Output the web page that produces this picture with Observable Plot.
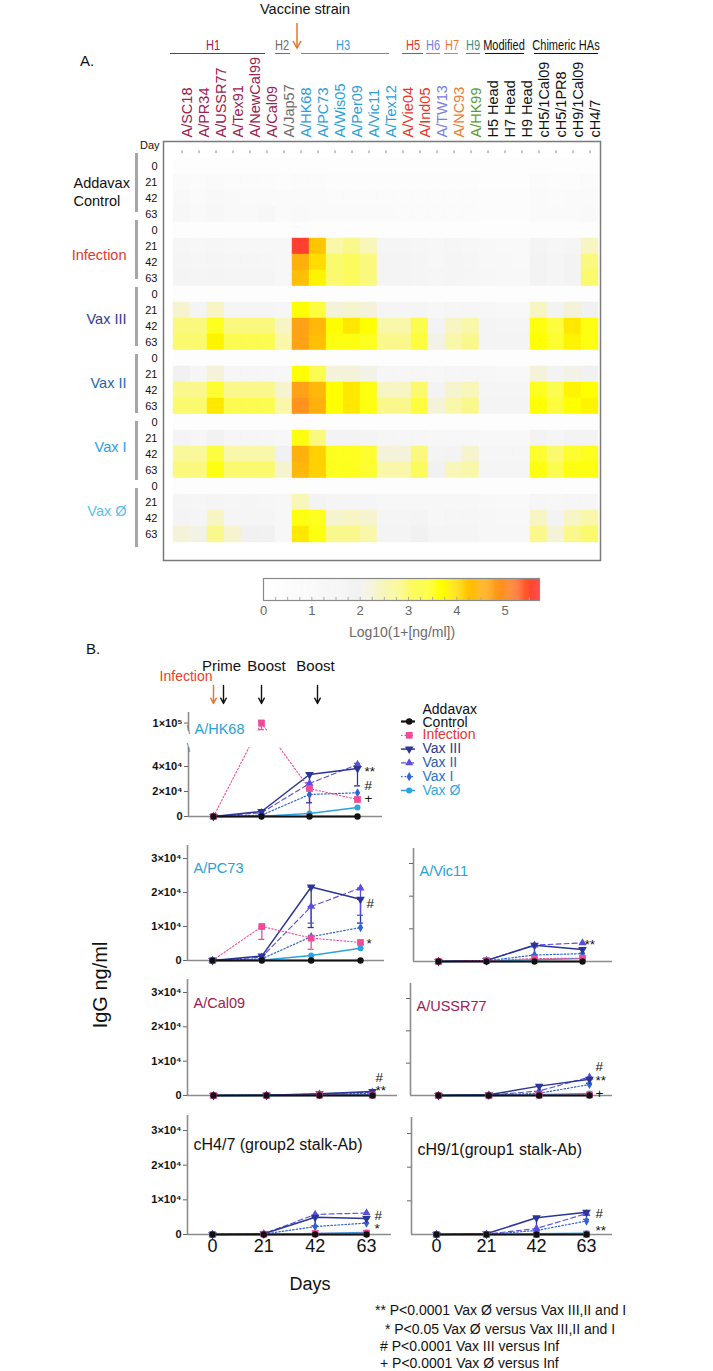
<!DOCTYPE html>
<html><head><meta charset="utf-8">
<script src="https://cdn.jsdelivr.net/npm/d3@7"></script>
<script src="https://cdn.jsdelivr.net/npm/@observablehq/plot@0.6"></script>
<style>
body{margin:0;background:#fff;}
#root{position:relative;width:713px;height:1371px;overflow:hidden;background:#fff;font-family:"Liberation Sans",Arial,sans-serif;color:#111;}
</style></head><body><div id="root"></div>
<script>
// ---------------- DATA ----------------
const columns = ["A/SC18","A/PR34","A/USSR77","A/Tex91","A/NewCal99","A/Cal09","A/Jap57","A/HK68","A/PC73","A/Wis05","A/Per09","A/Vic11","A/Tex12","A/Vie04","A/Ind05","A/TW13","A/NC93","A/HK99","H5 Head","H7 Head","H9 Head","cH5/1Cal09","cH5/1PR8","cH9/1Cal09","cH4/7"];
const columnSubtype = ["H1","H1","H1","H1","H1","H1","H2","H3","H3","H3","H3","H3","H3","H5","H5","H6","H7","H9","Modified","Modified","Modified","Chimeric HAs","Chimeric HAs","Chimeric HAs","Chimeric HAs"];
const days = [0, 21, 42, 63];
const groups = ["Addavax Control","Infection","Vax III","Vax II","Vax I","Vax Ø"];

// log10(1+[ng/ml]) per group, rows = days 0,21,42,63, 25 columns
const heatAddavax = [
 [0.3,0.3,0.3,0.3,0.3,0.3,0.3,0.3,0.3,0.3,0.3,0.3,0.3,0.3,0.3,0.3,0.3,0.3,0.3,0.3,0.3,0.3,0.3,0.3,0.3],
 [0.8,0.6,0.8,0.6,0.6,0.6,0.5,0.7,0.6,0.5,0.5,0.5,0.5,0.5,0.5,0.5,0.5,0.5,0.4,0.4,0.4,0.6,0.5,0.5,0.6],
 [1.1,0.9,1.1,1.0,0.9,0.9,0.8,0.9,0.8,0.7,0.7,0.7,0.7,0.7,0.7,0.6,0.7,0.7,0.5,0.5,0.5,0.8,0.7,0.8,0.9],
 [1.2,1.0,1.2,1.0,1.0,1.2,0.8,1.0,0.9,0.8,0.8,0.8,0.8,0.7,0.7,0.7,0.7,0.7,0.5,0.5,0.5,0.9,0.8,0.9,1.0]];
const heatInfection = [
 [0.4,0.4,0.4,0.4,0.4,0.4,0.4,0.4,0.4,0.4,0.4,0.4,0.4,0.4,0.4,0.4,0.4,0.4,0.4,0.4,0.4,0.4,0.4,0.4,0.4],
 [1.4,1.3,1.4,1.3,1.3,1.3,1.2,5.6,4.2,2.6,2.8,2.5,1.5,1.5,1.4,1.3,1.4,1.3,1.1,1.0,1.0,1.6,1.4,1.5,2.4],
 [1.5,1.4,1.5,1.4,1.4,1.4,1.3,4.5,4.0,3.0,3.1,2.9,1.6,1.6,1.5,1.3,1.5,1.4,1.1,1.1,1.0,1.7,1.5,1.7,2.9],
 [1.6,1.5,1.6,1.5,1.5,1.5,1.3,4.3,3.8,3.0,3.1,2.9,1.6,1.6,1.5,1.4,1.5,1.4,1.2,1.1,1.1,1.7,1.5,1.7,3.0]];
const heatVaxIII = [
 [0.4,0.4,0.4,0.4,0.4,0.4,0.4,0.4,0.4,0.4,0.4,0.4,0.4,0.4,0.4,0.4,0.4,0.4,0.4,0.4,0.4,0.4,0.4,0.4,0.4],
 [2.3,1.6,2.4,1.5,1.5,1.5,1.4,3.7,3.3,2.2,2.3,2.2,1.5,1.5,1.5,1.3,1.4,1.4,1.2,1.1,1.1,2.4,1.8,2.2,2.0],
 [2.9,2.9,3.5,2.9,2.9,2.9,2.4,4.7,4.4,3.7,3.9,3.7,2.6,2.6,3.2,1.8,2.4,2.6,1.6,1.5,1.5,3.6,3.3,3.9,3.6],
 [3.0,3.0,3.8,3.2,3.2,3.2,2.6,4.7,4.3,3.6,3.6,3.5,2.8,2.8,3.3,2.1,2.6,2.8,1.6,1.6,1.6,3.7,3.4,3.8,3.6]];
const heatVaxII = [
 [0.4,0.4,0.4,0.4,0.4,0.4,0.4,0.4,0.4,0.4,0.4,0.4,0.4,0.4,0.4,0.4,0.4,0.4,0.4,0.4,0.4,0.4,0.4,0.4,0.4],
 [2.0,1.5,2.2,1.4,1.4,1.4,1.3,3.7,3.2,2.2,2.2,2.1,1.4,1.4,1.4,1.3,1.4,1.4,1.2,1.1,1.1,2.2,1.7,2.1,2.0],
 [2.8,2.8,3.4,2.8,2.8,2.8,2.3,4.7,4.4,3.7,3.9,3.6,2.4,2.4,3.0,1.8,2.3,2.5,1.5,1.5,1.5,3.5,3.2,3.8,3.7],
 [3.0,3.0,3.9,3.2,3.2,3.2,2.6,4.9,4.5,3.7,3.9,3.6,2.8,2.8,3.3,2.2,2.6,2.8,1.6,1.6,1.6,3.7,3.3,3.7,3.8]];
const heatVaxI = [
 [0.4,0.4,0.4,0.4,0.4,0.4,0.4,0.4,0.4,0.4,0.4,0.4,0.4,0.4,0.4,0.4,0.4,0.4,0.4,0.4,0.4,0.4,0.4,0.4,0.4],
 [1.6,1.4,1.9,1.4,1.4,1.4,1.3,3.6,2.9,1.8,1.8,1.6,1.4,1.4,1.4,1.3,1.3,1.3,1.1,1.1,1.1,1.7,1.5,1.8,1.7],
 [2.7,2.7,3.3,2.6,2.6,2.6,2.0,4.5,4.1,3.5,3.5,3.4,2.2,2.2,2.9,1.6,1.8,2.3,1.4,1.4,1.4,3.4,3.0,3.4,3.5],
 [2.9,2.9,3.6,3.0,3.0,3.0,2.3,4.4,4.1,3.5,3.5,3.4,2.6,2.6,3.1,2.0,2.5,2.6,1.5,1.5,1.5,3.6,3.2,3.6,3.6]];
const heatVaxO = [
 [0.4,0.4,0.4,0.4,0.4,0.4,0.4,0.4,0.4,0.4,0.4,0.4,0.4,0.4,0.4,0.4,0.4,0.4,0.4,0.4,0.4,0.4,0.4,0.4,0.4],
 [1.5,1.4,1.5,1.4,1.5,1.4,1.2,2.5,1.8,1.5,1.5,1.5,1.3,1.3,1.3,1.2,1.3,1.3,1.1,1.0,1.0,1.4,1.3,1.4,1.4],
 [1.6,1.5,2.4,1.5,1.5,1.5,1.2,3.6,3.5,2.3,2.4,2.3,1.5,1.5,1.6,1.3,1.4,1.4,1.2,1.1,1.1,2.4,1.8,2.4,2.6],
 [2.2,2.1,2.8,2.3,2.0,2.0,1.3,3.9,3.6,2.8,2.8,2.6,1.6,1.6,2.0,1.5,1.5,1.5,1.2,1.2,1.2,2.8,2.2,2.8,3.0]];
const heatByGroup = [heatAddavax, heatInfection, heatVaxIII, heatVaxII, heatVaxI, heatVaxO];

// colour bar ticks
const colorTicks = [0, 1, 2, 3, 4, 5];

// Panel B: IgG ng/ml at days 0,21,42,63 — series order: Control, Infection, Vax III, Vax II, Vax I, Vax Ø
const seriesNames = ["Addavax Control","Infection","Vax III","Vax II","Vax I","Vax Ø"];
const igHK68  = [[0,0,0,0],[0,100000,22400,13600],[0,4000,33600,38400],[0,3000,26400,41600],[0,1000,17600,19000],[0,300,2400,7200]];
const igPC73  = [[0,0,0,0],[0,10000,6600,5300],[0,1300,21600,18000],[0,1000,15900,21300],[0,500,7000,9700],[0,100,1500,3600]];
const igVic11 = [[0,0,0,0],[0,300,900,1000],[0,300,5000,3700],[0,300,5000,5700],[0,200,2000,2400],[0,100,500,900]];
const igCal09 = [[0,0,0,0],[0,0,100,100],[0,100,500,1200],[0,100,400,1000],[0,50,300,700],[0,0,100,300]];
const igUSSR77= [[0,0,0,0],[0,0,100,200],[0,200,2900,5000],[0,100,1400,5700],[0,100,700,3400],[0,0,200,600]];
const igCH47  = [[0,0,0,0],[0,100,300,400],[0,200,5000,4600],[0,200,5800,6200],[0,100,2300,3300],[0,0,300,600]];
const igCH91  = [[0,0,0,0],[0,0,0,100],[0,200,5000,6600],[0,100,1800,6200],[0,0,1200,4000],[0,0,200,400]];

// error bars: [series, day, low, high]
const errHK68  = [["Infection",21,95000,102000],["Infection",42,1500,22400],["Vax III",42,11000,34500],["Vax II",42,22000,27000],["Vax III",63,24500,39500],["Vax II",63,39000,42500]];
const errPC73  = [["Infection",21,6200,10000],["Infection",42,3300,6600],["Vax III",42,9700,21600],["Vax II",42,11000,15900],["Vax III",63,11000,18000],["Vax II",63,13300,21300]];
const errVic11 = [["Vax III",42,2000,5000],["Vax III",63,2500,3700]];
const errCal09 = [];
const errUSSR77= [["Vax III",42,900,2900],["Vax III",63,3800,5000]];
const errCH47  = [["Vax III",42,2500,5000],["Vax III",63,3300,4600]];
const errCH91  = [["Vax III",42,500,5000],["Vax II",63,4500,6200]];

// significance marks at day 63: [symbol, value]
const sigHK68  = [["**",36000],["#",24800],["+",14400]];
const sigPC73  = [["#",16800],["*",5000]];
const sigVic11 = [["**",5200]];
const sigCal09 = [["#",5300],["**",1400]];
const sigUSSR77= [["#",8800],["**",4600],["+",700]];
const sigCH47  = [["#",5500],["*",1600]];
const sigCH91  = [["#",6200],["**",1000]];

const footnotes = ["** P<0.0001 Vax Ø versus Vax III,II and I"," * P<0.05 Vax Ø versus Vax III,II and I","# P<0.0001 Vax III versus Inf","+ P<0.0001 Vax Ø versus Inf"];

// ---------------- STYLES / LAYOUT ----------------
const FONT = '"Liberation Sans", Arial, sans-serif';
const subtypeColor = {"H1":"#9b2150","H2":"#6e6e6e","H3":"#2aa0d8","H5":"#e8352a","H6":"#7880e0","H7":"#f07a30","H9":"#3f8f82","Modified":"#111","Chimeric HAs":"#111"};
const columnTextColor = {"H1":"#9b2150","H2":"#6e6e6e","H3":"#2aa0d8","H5":"#e8352a","H6":"#7880e0","H7":"#f07a30","H9":"#5a9c2c","Modified":"#111","Chimeric HAs":"#111"};
const groupColor = {"Addavax Control":"#111","Infection":"#e03a30","Vax III":"#2d3a8e","Vax II":"#2167ab","Vax I":"#2aa0da","Vax Ø":"#58c0ea"};
const seriesStyle = {
  "Addavax Control": {color:"#111", w:2.2, dash:null, symbol:"circle", r:3.2, rot:0, text:"#111"},
  "Infection": {color:"#ee4b98", w:1.1, dash:"1.5,2", symbol:"square", r:3.8, rot:0, text:"#e8352e"},
  "Vax III": {color:"#2b3596", w:1.5, dash:null, symbol:"triangle", r:3.2, rot:180, text:"#2e3a8c"},
  "Vax II": {color:"#5a4de0", w:1.1, dash:"5,3", symbol:"triangle", r:3, rot:0, text:"#2e60b0"},
  "Vax I": {color:"#2f63d8", w:1.2, dash:"1.5,2", symbol:"diamond", r:2.8, rot:0, text:"#2c75c8"},
  "Vax Ø": {color:"#2ba2e2", w:1.5, dash:null, symbol:"circle", r:3, rot:0, text:"#36a8e2"}
};
const cbDomain = [0, 1, 2, 2.5, 3, 3.7, 4.2, 5, 5.71];
const cbColors = ["#ffffff","#f9f9f9","#f1f1f1","#f8f6b8","#fbfa6e","#ffff00","#ffc600","#ff8c22","#ff3232"];
const colorScale = {type:"linear", domain: cbDomain, range: cbColors, clamp: true};

const root = document.getElementById("root");
function put(svg, top) { svg.style.position = "absolute"; svg.style.left = "0px"; svg.style.top = top + "px"; root.appendChild(svg); }
function txt(s, x, y, o = {}) {
  const d = document.createElement("div");
  d.textContent = s;
  const ax = o.anchor === "middle" ? "-50%" : o.anchor === "end" ? "-100%" : "0";
  d.style.cssText = `position:absolute;left:${x}px;top:${y}px;white-space:pre;line-height:1;font-size:${o.size||14}px;color:${o.color||"#111"};font-family:${o.family||FONT};font-weight:${o.weight||"normal"};transform:translate(${ax},-50%)${o.rotate ? ` rotate(${o.rotate}deg)` : ""}${o.sx ? ` scaleX(${o.sx})` : ""};`;
  root.appendChild(d);
}
function hline(x1, x2, y, color, w = 1.5) {
  const d = document.createElement("div");
  d.style.cssText = `position:absolute;left:${x1}px;top:${y}px;width:${x2-x1}px;height:${w}px;background:${color};`;
  root.appendChild(d);
}
function vbar(x, y1, y2, color, w = 3) {
  const d = document.createElement("div");
  d.style.cssText = `position:absolute;left:${x}px;top:${y1}px;width:${w}px;height:${y2-y1}px;background:${color};`;
  root.appendChild(d);
}
function arrowDown(x, y1, y2, color) {
  const h = y2 - y1;
  root.insertAdjacentHTML("beforeend", `<svg width="14" height="${h+2}" style="position:absolute;left:${x-7}px;top:${y1}px;overflow:visible"><line x1="7" y1="0" x2="7" y2="${h}" stroke="${color}" stroke-width="1.5"/><polyline points="3,${h-7} 7,${h} 11,${h-7}" fill="none" stroke="${color}" stroke-width="1.5"/></svg>`);
}
const svgStyle = {background: "transparent", overflow: "visible", fontFamily: FONT};

// ---------------- PANEL A: heatmap ----------------
const rowKeys = groups.flatMap(g => days.map(d => g + "|" + d));
const heat = [];
groups.forEach((g, gi) => days.forEach((d, di) => columns.forEach((c, ci) => heat.push({row: g + "|" + d, col: c, v: heatByGroup[gi][di][ci]}))));

const HM = {top: 141, left: 163, right: 600, bottom: 560, cellX: [173, 598], cellY: [148.6, 551.4]};
const bandH = (HM.cellY[1] - HM.cellY[0]) / rowKeys.length;
const colorRuns = Object.keys(columnTextColor).map(k => ({k, cols: columns.filter((c, i) => columnSubtype[i] === k)}));

const heatMarks = [
  Plot.cell(heat, {x: "col", y: "row", fill: "v", stroke: "v", strokeWidth: 0.4, inset: 0}),
  Plot.frame({stroke: "#7a7a7a", strokeWidth: 1.5}),
  Plot.tickX(columns, {x: d => d, y: () => rowKeys[0], insetBottom: bandH - 3.5, dy: -(HM.cellY[0] - HM.top), stroke: "#888"}),
  Plot.text(rowKeys, {y: d => d, text: d => d.split("|")[1], frameAnchor: "left", dx: -6, textAnchor: "end", fontSize: 11, fill: "#111"}),
  Plot.text(["Day"], {frameAnchor: "top-left", dx: -4, textAnchor: "end", fontSize: 11, fill: "#111"})
];
colorRuns.forEach(({k, cols}) => heatMarks.push(Plot.text(cols, {x: d => d, frameAnchor: "top", dy: -4, rotate: -90, textAnchor: "start", fill: columnTextColor[k], fontSize: 14.5, fontFamily: FONT})));
groups.forEach(g => {
  if (g === "Addavax Control") {
    heatMarks.push(Plot.text(["Addavax\nControl"], {y: () => g + "|21", dy: bandH / 2, frameAnchor: "left", dx: -90, textAnchor: "start", lineHeight: 1.3, fill: groupColor[g], fontSize: 14.5}));
  } else {
    heatMarks.push(Plot.text([g], {y: () => g + "|21", dy: bandH / 2, frameAnchor: "left", dx: -37, textAnchor: "end", fill: groupColor[g], fontSize: 14.5}));
  }
});
put(Plot.plot({
  width: 713, height: 600, marginTop: HM.top, marginLeft: HM.left, marginRight: 713 - HM.right, marginBottom: 600 - HM.bottom,
  style: svgStyle,
  x: {type: "band", domain: columns, range: HM.cellX, padding: 0, axis: null},
  y: {type: "band", domain: rowKeys, range: HM.cellY, padding: 0, axis: null},
  color: colorScale,
  marks: heatMarks
}), 0);

// group bars
groups.forEach((g, gi) => {
  const y1 = HM.cellY[0] + gi * 4 * bandH + 4;
  const y2 = HM.cellY[0] + (gi * 4 + 4) * bandH - 4;
  vbar(134.5, y1, y2, "#a6a6a6", 3);
});

// header
txt("Vaccine strain", 305, 9, {anchor: "middle", size: 14.5});
arrowDown(297, 23, 48, "#e8742a");
txt("A.", 80, 60, {size: 15});
const headerSpans = [
  {k: "H1", x1: 170, x2: 265, tx: 213}, {k: "H2", x1: 275, x2: 290, tx: 282}, {k: "H3", x1: 301, x2: 389, tx: 343},
  {k: "H5", x1: 402, x2: 423, tx: 413}, {k: "H6", x1: 426, x2: 440, tx: 433}, {k: "H7", x1: 444, x2: 458, tx: 452},
  {k: "H9", x1: 466, x2: 480, tx: 473}, {k: "Modified", x1: 485, x2: 524, tx: 504}, {k: "Chimeric HAs", x1: 534, x2: 598, tx: 566}
];
headerSpans.forEach(h => {
  txt(h.k, h.tx, 45, {anchor: "middle", size: 14.5, color: subtypeColor[h.k], sx: 0.76});
  hline(h.x1, h.x2, 52.5, subtypeColor[h.k], 1.6);
});

// colour bar
const cbSteps = d3.range(0, 5.71, 0.02);
put(Plot.plot({
  width: 713, height: 60, marginTop: 8, marginBottom: 30, marginLeft: 263, marginRight: 174,
  style: svgStyle,
  x: {domain: [0, 5.71]},
  y: {domain: [0, 1], axis: null},
  color: colorScale,
  marks: [
    Plot.rect(cbSteps, {x1: d => d, x2: d => d + 0.025, y1: () => 0, y2: () => 1, fill: d => d}),
    Plot.ruleX(d3.range(0.25, 5.7, 0.25), {x: d => d, y1: () => 0, y2: () => 0.14, stroke: "#aaa"}),
    Plot.frame({stroke: "#8a8a8a", strokeWidth: 1.2}),
    Plot.axisX({ticks: colorTicks, tickSize: 0, tickPadding: 5, fontSize: 13, fill: "#666", label: null, tickFormat: d => d})
  ]
}), 570);
txt("Log10(1+[ng/ml])", 402, 632, {anchor: "middle", size: 14, color: "#6a6a6a"});

// ---------------- PANEL B ----------------
txt("B.", 86, 648, {size: 15});

// event arrows (infection, prime, boosts)
const events = [{label: "Infection", day: 0}, {label: "Prime", day: 0}, {label: "Boost", day: 21}, {label: "Boost", day: 42}];
const eventLook = [
  {dx: 0, color: "#e8742a", tColor: "#e8402a", tdx: -1, tdy: -9, anchor: "end", size: 14},
  {dx: 10, color: "#111", tColor: "#111", tdx: 8, tdy: -19, anchor: "middle", size: 15},
  {dx: 0, color: "#111", tColor: "#111", tdx: 5, tdy: -19, anchor: "middle", size: 15},
  {dx: 8, color: "#111", tColor: "#111", tdx: 6, tdy: -19, anchor: "middle", size: 15}
];
const evMarks = [];
events.forEach((e, i) => {
  const L = eventLook[i];
  evMarks.push(Plot.arrow([e], {x1: d => d.day, x2: d => d.day, y1: () => 1, y2: () => 0, dx: L.dx, stroke: L.color, strokeWidth: 1.4, headLength: 7, headAngle: 55}));
  evMarks.push(Plot.text([e], {x: d => d.day, y: () => 1, text: d => d.label, dx: L.tdx, dy: L.tdy, textAnchor: L.anchor, fill: L.tColor, fontSize: L.size}));
});
put(Plot.plot({
  width: 713, height: 60, margin: 0, style: svgStyle,
  x: {domain: [0, 63], range: [213, 357], axis: null},
  y: {domain: [0, 1], range: [53, 35], axis: null},
  marks: evMarks
}), 650);

const drawOrder = ["Vax Ø","Vax I","Vax II","Vax III","Infection","Addavax Control"];
const fmtTick = d => d === 0 ? "0" : d >= 1e5 ? `${d/1e5}×10⁵` : `${d/1e4}×10⁴`;
const identity = v => v;

function lineChart(label, labelColor, labelSize, values, errs, sigs, L) {
  const top = L.top, height = L.bottom - L.top;
  const ym = L.yMap || identity;
  const leftDay = (L.axisLeft - L.x0) / (L.x63 - L.x0) * 63;
  const yDom = L.yDomain || [0, 30000];
  const yTopVal = yDom[0] + (yDom[1] - yDom[0]) * (L.y0 - L.yTop) / (L.y0 - L.y3);
  const tickPos = L.ticks.map(ym);
  const tickText = new Map(L.ticks.map(t => [ym(t), fmtTick(t)]));
  const marks = [
    Plot.ruleY([0], {stroke: "#8c8c8c", strokeWidth: 1.6}),
    Plot.ruleX([leftDay], {x: d => d, y1: () => 0, y2: () => yTopVal, stroke: "#8c8c8c", strokeWidth: 1.6}),
    Plot.axisY({ticks: tickPos, tickSize: 4, tickPadding: 2, stroke: "#666", fontSize: 11, fontWeight: "bold", label: null, tickFormat: L.tickLabels ? (d => tickText.get(d)) : () => ""})
  ];
  if (L.xLabels) marks.push(Plot.axisX({ticks: days, tickSize: 0, tickPadding: 5, fontSize: 18, label: null, tickFormat: d => d}));
  seriesNames.forEach(s => {
    const rows = errs.filter(e => e[0] === s).map(e => ({day: e[1], lo: e[2], hi: e[3]}));
    if (!rows.length) return;
    const c = seriesStyle[s].color;
    marks.push(Plot.ruleX(rows, {x: "day", y1: d => ym(d.lo), y2: d => ym(d.hi), stroke: c, strokeWidth: 1.3}));
    const caps = rows.flatMap(r => [{day: r.day, v: r.lo}, {day: r.day, v: r.hi}]);
    marks.push(Plot.ruleY(caps, {y: d => ym(d.v), x1: d => d.day - 1.3, x2: d => d.day + 1.3, stroke: c, strokeWidth: 1.3}));
  });
  drawOrder.forEach(s => {
    const st = seriesStyle[s];
    const pts = days.map((day, i) => ({day, v: values[seriesNames.indexOf(s)][i]}));
    marks.push(Plot.line(pts, {x: "day", y: d => ym(d.v), stroke: st.color, strokeWidth: st.w, strokeDasharray: st.dash}));
  });
  if (L.breaks) {
    // white gap of the broken y axis, drawn over the axis and the lines that cross it
    const [b1, b2] = L.breaks.map(ym);
    marks.push(Plot.rect([0], {x1: () => leftDay - 3, x2: () => 70, y1: () => b1 + 0.8, y2: () => b2 - 0.8, fill: "white"}));
    marks.push(Plot.text([b2, b1], {x: () => leftDay, y: d => d, text: () => "\\", fontSize: 12, fill: "#777"}));
  }
  drawOrder.forEach(s => {
    const st = seriesStyle[s];
    const pts = days.map((day, i) => ({day, v: values[seriesNames.indexOf(s)][i]}));
    marks.push(Plot.dot(pts, {x: "day", y: d => ym(d.v), symbol: st.symbol, r: st.r, fill: st.color, stroke: "none", rotate: st.rot}));
  });
  marks.push(Plot.text(sigs, {x: () => 63, y: d => ym(d[1]), text: d => d[0], dx: L.sigDx, textAnchor: "start", fontSize: 13.5, fill: "#111"}));
  marks.push(Plot.text([label], {frameAnchor: "top-left", dx: 6, dy: L.labelDy, textAnchor: "start", fill: labelColor, fontSize: labelSize}));
  put(Plot.plot({
    width: 713, height, marginTop: L.yTop - top, marginBottom: L.bottom - L.y0, marginLeft: L.axisLeft, marginRight: 713 - L.axisRight,
    style: svgStyle,
    x: {domain: [0, 63], range: [L.x0, L.x63], axis: L.xLabels ? undefined : null},
    y: {domain: yDom, range: [L.y0 - top, L.y3 - top]},
    marks
  }), top);
}

// broken axis for A/HK68: values mapped piecewise onto a display scale (0–104)
const hkBreak = d3.scaleLinear().domain([0, 54400, 94400, 108000]).range([0, 68, 86, 104]);
const H3C = "#2a9fd6", H1C = "#9b2150";
lineChart("A/HK68", H3C, 14.5, igHK68, errHK68, sigHK68,
  {top: 700, bottom: 830, axisLeft: 188, axisRight: 382, x0: 213, x63: 357, y0: 816, y3: 712, yTop: 712, yDomain: [0, 104], yMap: v => hkBreak(v),
   breaks: [54400, 94400], ticks: [0, 20000, 40000, 100000], tickLabels: true, labelDy: 11, sigDx: 7});
lineChart("A/PC73", H3C, 14.5, igPC73, errPC73, sigPC73,
  {top: 830, bottom: 975, axisLeft: 187, axisRight: 384, x0: 212, x63: 360, y0: 960, y3: 858, yTop: 845, ticks: [0, 10000, 20000, 30000], tickLabels: true, labelDy: 17, sigDx: 6});
lineChart("A/Vic11", H3C, 14.5, igVic11, errVic11, sigVic11,
  {top: 830, bottom: 975, axisLeft: 413, axisRight: 612, x0: 438, x63: 582, y0: 961, y3: 863, yTop: 848, ticks: [10000, 20000, 30000], tickLabels: false, labelDy: 17, sigDx: 2});
lineChart("A/Cal09", H1C, 14.5, igCal09, errCal09, sigCal09,
  {top: 965, bottom: 1108, axisLeft: 187, axisRight: 397, x0: 213, x63: 372, y0: 1095, y3: 992, yTop: 979, ticks: [0, 10000, 20000, 30000], tickLabels: true, labelDy: 18, sigDx: 3});
lineChart("A/USSR77", H1C, 14.5, igUSSR77, errUSSR77, sigUSSR77,
  {top: 965, bottom: 1108, axisLeft: 410, axisRight: 612, x0: 438, x63: 589, y0: 1095, y3: 998, yTop: 983, ticks: [10000, 20000, 30000], tickLabels: false, labelDy: 17, sigDx: 6});
lineChart("cH4/7 (group2 stalk-Ab)", "#111", 16, igCH47, errCH47, sigCH47,
  {top: 1100, bottom: 1264, axisLeft: 187, axisRight: 391, x0: 212, x63: 366, y0: 1234, y3: 1130, yTop: 1115, ticks: [0, 10000, 20000, 30000], tickLabels: true, labelDy: 23, sigDx: 8, xLabels: true});
lineChart("cH9/1(group1 stalk-Ab)", "#111", 16, igCH91, errCH91, sigCH91,
  {top: 1100, bottom: 1264, axisLeft: 411, axisRight: 612, x0: 436, x63: 586, y0: 1234, y3: 1133, yTop: 1117, ticks: [10000, 20000, 30000], tickLabels: false, labelDy: 26, sigDx: 9, xLabels: true});

// legend
const legendMarks = [];
seriesNames.forEach((s, i) => {
  const st = seriesStyle[s];
  legendMarks.push(Plot.ruleY([i], {y: d => d, x1: () => 0, x2: () => 1, stroke: st.color, strokeWidth: Math.max(st.w, 1.3), strokeDasharray: st.dash}));
  legendMarks.push(Plot.dot([i], {x: () => 0.55, y: d => d, symbol: st.symbol, r: st.r, fill: st.color, stroke: "none", rotate: st.rot}));
  const lbl = s === "Addavax Control" ? "Addavax\nControl" : s;
  legendMarks.push(Plot.text([i], {x: () => 1, y: d => d, text: () => lbl, dx: 7, dy: s === "Addavax Control" ? 5 : 0, lineAnchor: s === "Addavax Control" ? "bottom" : "middle", lineHeight: 0.9, textAnchor: "start", fill: st.text, fontSize: 14}));
});
put(Plot.plot({
  width: 713, height: 110, margin: 0, style: svgStyle,
  x: {domain: [0, 1], range: [401, 415], axis: null},
  y: {domain: [0, 5], range: [21, 90], axis: null},
  marks: legendMarks
}), 700);

// axis titles & footnotes
txt("IgG ng/ml", 100, 985, {anchor: "middle", size: 20, rotate: -90});
txt("Days", 310, 1284, {anchor: "middle", size: 18});
const footX = [375, 381, 380, 380], footY = [1310, 1329, 1346, 1363];
footnotes.forEach((f, i) => txt(f, footX[i], footY[i], {size: 14}));
</script></body></html>
